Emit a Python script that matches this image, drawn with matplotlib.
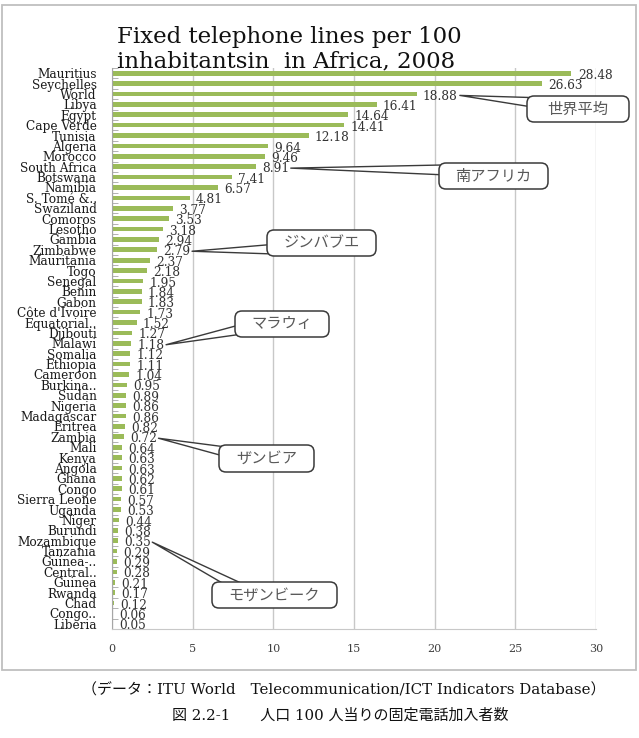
import numpy as np
import matplotlib
matplotlib.use('Agg')
import matplotlib.pyplot as plt
from matplotlib.patches import FancyBboxPatch, Rectangle
from matplotlib.transforms import IdentityTransform

countries = ['Mauritius', 'Seychelles', 'World', 'Libya', 'Egypt', 'Cape Verde',
             'Tunisia', 'Algeria', 'Morocco', 'South Africa', 'Botswana', 'Namibia',
             'S. Tomé &..', 'Swaziland', 'Comoros', 'Lesotho', 'Gambia', 'Zimbabwe',
             'Mauritania', 'Togo', 'Senegal', 'Benin', 'Gabon', "Côte d'Ivoire",
             'Equatorial..', 'Djibouti', 'Malawi', 'Somalia', 'Ethiopia', 'Cameroon',
             'Burkina..', 'Sudan', 'Nigeria', 'Madagascar', 'Eritrea', 'Zambia',
             'Mali', 'Kenya', 'Angola', 'Ghana', 'Congo', 'Sierra Leone', 'Uganda',
             'Niger', 'Burundi', 'Mozambique', 'Tanzania', 'Guinea-..', 'Central..',
             'Guinea', 'Rwanda', 'Chad', 'Congo..', 'Liberia']
values = [28.48, 26.63, 18.88, 16.41, 14.64, 14.41, 12.18, 9.64, 9.46, 8.91, 7.41,
          6.57, 4.81, 3.77, 3.53, 3.18, 2.94, 2.79, 2.37, 2.18, 1.95, 1.84, 1.83,
          1.73, 1.52, 1.27, 1.18, 1.12, 1.11, 1.04, 0.95, 0.89, 0.86, 0.86, 0.82,
          0.72, 0.64, 0.63, 0.63, 0.62, 0.61, 0.57, 0.53, 0.44, 0.38, 0.35, 0.29,
          0.29, 0.28, 0.21, 0.17, 0.12, 0.06, 0.05]
x_ticks = [0, 5, 10, 15, 20, 25, 30]

title_lines = ['Fixed telephone lines per 100', 'inhabitantsin  in Africa, 2008']
source_note = '（データ：ITU World\u3000Telecommunication/ICT Indicators Database）'
fig_caption = '図 2.2-1\u3000\u3000人口 100 人当りの固定電話加入者数'

# callouts: country, label, box in image pixels (x0, top, x1, bottom), wedge base point
callouts = [
    ('World', '世界平均', (527, 96, 629, 122), (540, 103)),
    ('South Africa', '南アフリカ', (439, 163, 548, 189), (452, 170)),
    ('Zimbabwe', 'ジンバブエ', (267, 230, 376, 256), (280, 249)),
    ('Malawi', 'マラウィ', (235, 311, 329, 337), (248, 328)),
    ('Zambia', 'ザンビア', (219, 445, 314, 472), (232, 453)),
    ('Mozambique', 'モザンビーク', (212, 582, 337, 608), (248, 592)),
]

W, H = 639, 738
serif = ['DejaVu Serif']
jp = ['Noto Sans CJK JP', 'DejaVu Sans']
bar_colour = '#9bbb59'
grid_colour = '#c8c8c8'

fig = plt.figure(figsize=(W / 100, H / 100), dpi=100)
ax = fig.add_axes([112 / W, 1 - 629 / H, (596 - 112) / W, (629 - 68) / H])

pos = np.arange(len(countries))
ax.barh(pos, values, height=0.45, color=bar_colour, zorder=2)
ax.set_ylim(len(countries) - 0.5, -0.5)
ax.set_xlim(0, 30)

ax.set_yticks(pos)
ax.set_yticklabels(countries, family=serif, fontsize=8.7, color='#1a1a1a')
ax.tick_params(axis='y', length=0, pad=11)
ax.set_yticks(np.arange(len(countries) + 1) - 0.5, minor=True)
ax.tick_params(axis='y', which='minor', direction='in', length=4, color='#a6a6a6')

ax.set_xticks(x_ticks)
ax.set_xticklabels([str(t) for t in x_ticks], family=serif, fontsize=8, color='#404040')
ax.tick_params(axis='x', length=0, pad=11)
ax.grid(axis='x', color=grid_colour, lw=1, zorder=0)
ax.set_axisbelow(True)
for s in ['top', 'right']:
    ax.spines[s].set_visible(False)
ax.spines['left'].set_color('#a6a6a6')
ax.spines['bottom'].set_color(grid_colour)

value_labels = {}
for i, v in enumerate(values):
    t = ax.annotate('{:.2f}'.format(v), xy=(v, i), xytext=(4.5, -1.5),
                    textcoords='offset points', va='center', ha='left',
                    family=serif, fontsize=8.7, color='#333333')
    value_labels[countries[i]] = t

for k, line in enumerate(title_lines):
    fig.text(117 / W, 1 - (43 + 24 * k) / H, line, family=serif, fontsize=16.5,
             va='baseline', ha='left', color='#111111')

ident = IdentityTransform()
for country, label, (x0, y0, x1, y1), (bx, by) in callouts:
    ax.annotate('', xy=(1.06, 0.55), xycoords=value_labels[country],
                xytext=(bx, H - by), textcoords='figure pixels',
                annotation_clip=False,
                arrowprops=dict(arrowstyle='wedge,tail_width=0.75,shrink_factor=0.5',
                                fc='white', ec='#3a3a3a', lw=1.0,
                                shrinkA=0, shrinkB=0))
    box = FancyBboxPatch((x0, H - y1), x1 - x0, y1 - y0,
                         boxstyle='round,pad=0,rounding_size=7',
                         fc='white', ec='#3a3a3a', lw=1.1,
                         transform=ident, zorder=5)
    fig.add_artist(box)
    fig.text((x0 + x1) / 2 / W, 1 - (y0 + y1) / 2 / H, label, family=jp,
             fontsize=11, color='#595959', ha='center', va='center', zorder=6)

frame = Rectangle((2, H - 670), 634, 665, fill=False, ec='#bfbfbf', lw=1.3,
                  transform=ident)
fig.add_artist(frame)

cap_font = ['DejaVu Serif', 'Noto Sans CJK JP']
fig.text(344 / W, 1 - 690 / H, source_note, family=cap_font, fontsize=10.8,
         ha='center', va='center', color='#111111')
fig.text(340 / W, 1 - 716 / H, fig_caption, family=cap_font, fontsize=10.8,
         ha='center', va='center', color='#111111')

fig.savefig('out.png', dpi=100)
